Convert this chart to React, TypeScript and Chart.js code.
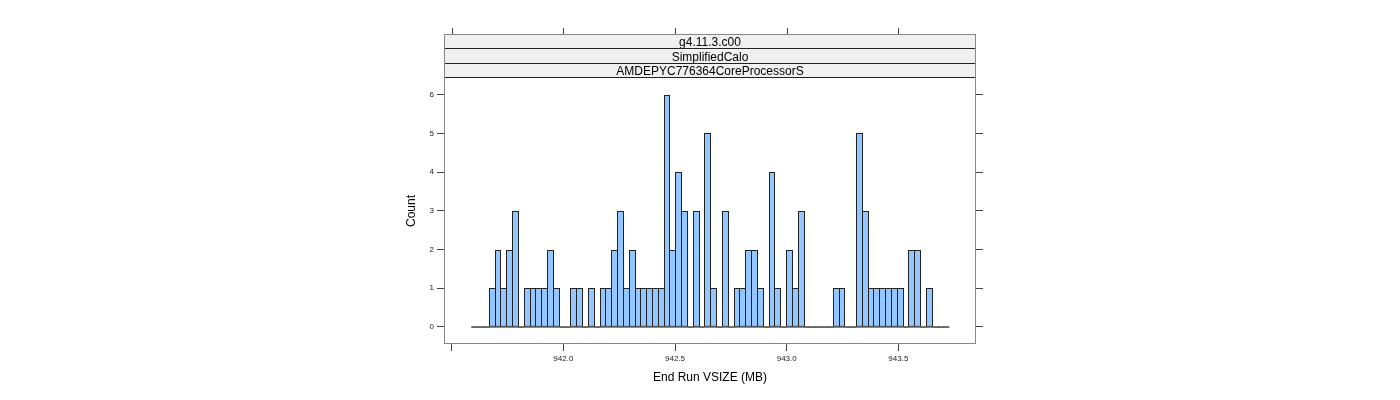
import { useEffect, useRef } from 'react';
import { Chart, registerables } from 'chart.js';

Chart.register(...registerables);

const STRIP_LABELS = ['g4.11.3.c00', 'SimplifiedCalo', 'AMDEPYC776364CoreProcessorS'];
const X_TITLE = 'End Run VSIZE (MB)';
const Y_TITLE = 'Count';

// histogram bins: lower edge of first bin and bin width (MB)
const BIN_START = 941.5877;
const BIN_WIDTH = 0.0261;
const COUNTS = [
  0, 0, 0,
  1, 2, 1, 2, 3, 0, 1, 1, 1, 1,
  2, 1, 0, 0, 1, 1, 0, 1, 0, 1,
  1, 2, 3, 1, 2, 1, 1, 1, 1, 1,
  6, 2, 4, 3, 0, 3, 0, 5, 1, 0,
  3, 0, 1, 1, 2, 2, 1, 0, 4, 1,
  0, 2, 1, 3, 0, 0, 0, 0, 0, 1,
  1, 0, 0, 5, 3, 1, 1, 1, 1, 1,
  1, 0, 2, 2, 0, 1,
  0, 0, 0,
];

const X_MIN = 941.4655;
const X_MAX = 943.8476;
const Y_MIN = -0.44;
const Y_MAX = 6.43;
const X_TICKS = [941.5, 942.0, 942.5, 943.0, 943.5];
const X_TICK_LABELS = ['', '942.0', '942.5', '943.0', '943.5'];
const Y_TICKS = [0, 1, 2, 3, 4, 5, 6];

const FONT = "'Liberation Sans', Arial, Helvetica, sans-serif";

export default function App() {
  const ref = useRef<HTMLCanvasElement | null>(null);

  useEffect(() => {
    const canvas = ref.current;
    if (!canvas) return;

    const barData = COUNTS.map((c, i) => ({ x: BIN_START + (i + 0.5) * BIN_WIDTH, y: c }));
    const baseData = [
      { x: BIN_START, y: 0 },
      { x: BIN_START + COUNTS.length * BIN_WIDTH, y: 0 },
    ];

    // snap histogram rectangles to whole pixels so adjacent bins share one outline
    const snapBars = {
      id: 'snapBars',
      afterDatasetsUpdate(chart: any) {
        const meta = chart.getDatasetMeta(0);
        meta.data.forEach((bar: any) => {
          const l = Math.round(bar.x - bar.width / 2);
          const r = Math.round(bar.x + bar.width / 2);
          bar.width = r - l + 1;
          bar.x = l + bar.width / 2;
          bar.y = Math.round(bar.y);
          bar.base = Math.round(bar.base) + 0.5;
        });
      },
    };

    const frame = {
      id: 'latticeFrame',
      afterDraw(chart: any) {
        const { ctx, chartArea } = chart;
        const xs = chart.scales.x;
        const left = chartArea.left;
        const right = chartArea.right;
        const top = 35;
        const stripH = (chartArea.top - top) / STRIP_LABELS.length;
        ctx.save();
        STRIP_LABELS.forEach((lab, i) => {
          const y0 = top + i * stripH;
          ctx.fillStyle = '#F0F0F0';
          ctx.fillRect(left, y0, right - left, stripH);
          ctx.fillStyle = '#000';
          ctx.font = `12px ${FONT}`;
          ctx.textAlign = 'center';
          ctx.textBaseline = 'middle';
          ctx.fillText(lab, (left + right) / 2, y0 + stripH / 2 + 1);
        });
        ctx.strokeStyle = '#222';
        ctx.lineWidth = 1;
        for (let i = 1; i <= STRIP_LABELS.length; i++) {
          const y = Math.round(top + i * stripH) - 0.5;
          ctx.beginPath();
          ctx.moveTo(left, y);
          ctx.lineTo(right, y);
          ctx.stroke();
        }
        ctx.strokeStyle = '#444';
        X_TICKS.forEach((v) => {
          const px = Math.round(xs.getPixelForValue(v)) + 0.5;
          ctx.beginPath();
          ctx.moveTo(px, top - 7);
          ctx.lineTo(px, top);
          ctx.stroke();
        });
        ctx.strokeStyle = '#888';
        ctx.strokeRect(left + 0.5, top - 0.5, right - left - 1, chartArea.bottom - top);
        ctx.restore();
      },
    };

    const chart = new Chart(canvas, {
      type: 'bar',
      data: {
        datasets: [
          {
            type: 'bar',
            data: barData,
            backgroundColor: '#94C6FF',
            borderColor: '#222',
            borderWidth: 1,
            borderSkipped: false,
            inflateAmount: 0,
            categoryPercentage: 1,
            barPercentage: 1,
            xAxisID: 'x',
            yAxisID: 'y',
            order: 2,
          } as any,
          {
            type: 'line',
            data: baseData,
            borderColor: '#000',
            borderWidth: 1,
            pointRadius: 0,
            xAxisID: 'x',
            yAxisID: 'y',
            order: 1,
          } as any,
        ],
      },
      options: {
        animation: false,
        responsive: false,
        maintainAspectRatio: false,
        events: [],
        layout: { padding: { left: 400, right: 400, top: 78, bottom: 10 } },
        plugins: { legend: { display: false }, tooltip: { enabled: false } },
        scales: {
          x: {
            type: 'linear',
            position: 'bottom',
            min: X_MIN,
            max: X_MAX,
            offset: false,
            afterBuildTicks: (s: any) => {
              s.ticks = X_TICKS.map((v) => ({ value: v }));
            },
            afterFit: (s: any) => {
              s.height = 46;
            },
            grid: {
              offset: false,
              drawOnChartArea: false,
              drawTicks: true,
              tickLength: 7,
              tickColor: '#444',
            },
            border: { display: false },
            ticks: {
              autoSkip: false,
              maxRotation: 0,
              padding: 3,
              color: '#222',
              font: { family: FONT, size: 8 },
              callback: (_v: any, i: number) => X_TICK_LABELS[i],
            },
            title: {
              display: true,
              text: X_TITLE,
              color: '#000',
              font: { family: FONT, size: 12 },
              padding: { top: 4, bottom: 5 },
            },
          },
          y: {
            type: 'linear',
            position: 'left',
            min: Y_MIN,
            max: Y_MAX,
            afterBuildTicks: (s: any) => {
              s.ticks = Y_TICKS.map((v) => ({ value: v }));
            },
            afterFit: (s: any) => {
              s.width = 44;
            },
            grid: {
              drawOnChartArea: false,
              drawTicks: true,
              tickLength: 7,
              tickColor: '#444',
            },
            border: { display: false },
            ticks: {
              padding: 3,
              color: '#222',
              font: { family: FONT, size: 8 },
              callback: (v: any) => String(v),
            },
            title: {
              display: true,
              text: Y_TITLE,
              color: '#000',
              font: { family: FONT, size: 12 },
              padding: { top: 4, bottom: 4 },
            },
          },
          y2: {
            type: 'linear',
            position: 'right',
            min: Y_MIN,
            max: Y_MAX,
            afterBuildTicks: (s: any) => {
              s.ticks = Y_TICKS.map((v) => ({ value: v }));
            },
            afterFit: (s: any) => {
              s.width = 24;
            },
            grid: {
              drawOnChartArea: false,
              drawTicks: true,
              tickLength: 7,
              tickColor: '#444',
            },
            border: { display: false },
            ticks: { display: false },
          },
        },
      } as any,
      plugins: [snapBars, frame],
    });

    return () => chart.destroy();
  }, []);

  return (
    <canvas
      ref={ref}
      width={1400}
      height={400}
      style={{ position: 'absolute', left: 0, top: 0, width: 1400, height: 400 }}
    />
  );
}
